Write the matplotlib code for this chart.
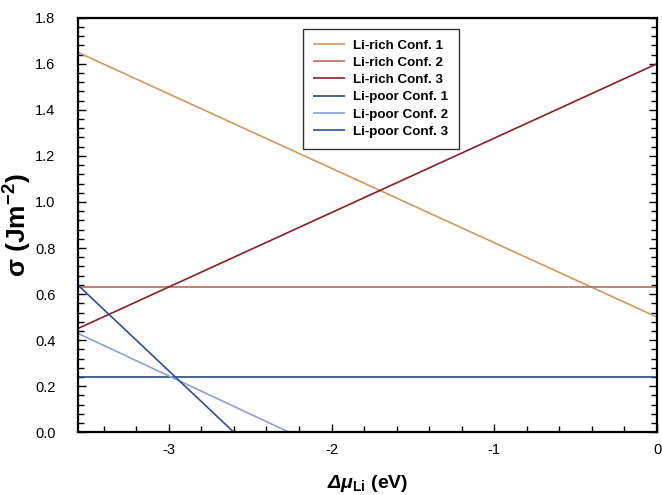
import numpy as np
import matplotlib
matplotlib.use("Agg")
import matplotlib.pyplot as plt
from matplotlib.ticker import MultipleLocator

# =========================
# DATA
# =========================
x_min = -3.56
x_max = 0.0

labels = ["Li-rich Conf. 1", "Li-rich Conf. 2", "Li-rich Conf. 3",
          "Li-poor Conf. 1", "Li-poor Conf. 2", "Li-poor Conf. 3"]
colors = ["#D4975A", "#BC6A62", "#8B1E24", "#2A4A78", "#8C9EE0", "#2C4FA0"]

# line endpoints (x, sigma)
rich1_x = [x_min, 0.0]
rich1_y = [1.65, 0.50]
rich2_x = [x_min, 0.0]
rich2_y = [0.63, 0.63]
rich3_x = [x_min, 0.0]
rich3_y = [0.45, 1.60]
poor1_x = [x_min, 0.0]
poor1_y = [0.24, 0.24]
poor2_x = [x_min, -2.26]
poor2_y = [0.43, 0.0]
poor3_x = [x_min, -2.60]
poor3_y = [0.64, 0.0]

series = [(rich1_x, rich1_y), (rich2_x, rich2_y), (rich3_x, rich3_y),
          (poor1_x, poor1_y), (poor2_x, poor2_y), (poor3_x, poor3_y)]

# =========================
# VISUAL CONFIG
# =========================
plt.rcParams.update({
    "font.family": ["Liberation Sans", "DejaVu Sans"],
    "font.size": 10.5,
    "mathtext.fontset": "custom",
    "mathtext.rm": "Liberation Sans:italic:bold",
    "mathtext.it": "Liberation Sans:italic:bold",
    "mathtext.bf": "Liberation Sans:bold",
})

fig = plt.figure(figsize=(6.62, 4.95), dpi=100)
ax = fig.add_axes([77.7 / 662, 1 - 432.3 / 495, (657 - 77.7) / 662, (432.3 - 17.7) / 495])

for (xs, ys), lab, col in zip(series, labels, colors):
    ax.plot(xs, ys, color=col, linewidth=1.2, label=lab, solid_capstyle="butt")

ax.set_xlim(x_min, x_max)
ax.set_ylim(0, 1.8)

ax.xaxis.set_major_locator(MultipleLocator(1))
ax.xaxis.set_minor_locator(MultipleLocator(0.2))
ax.yaxis.set_major_locator(MultipleLocator(0.2))
ax.yaxis.set_minor_locator(MultipleLocator(0.04))
ax.xaxis.set_major_formatter(matplotlib.ticker.FuncFormatter(lambda v, p: f"{v:.0f}"))
ax.yaxis.set_major_formatter(matplotlib.ticker.FormatStrFormatter("%.1f"))

ax.tick_params(which="both", direction="in", left=True, right=True, top=False, bottom=True,
               width=1.0, labelsize=10.5)
ax.tick_params(which="major", length=6)
ax.tick_params(which="minor", length=4)
ax.tick_params(axis="x", which="major", pad=8)
ax.tick_params(axis="y", which="major", pad=16)

for s in ax.spines.values():
    s.set_linewidth(1.6)

ax.set_ylabel("σ (Jm$^{\\mathregular{-2}}$)", fontsize=19, fontweight="bold", labelpad=1)
ax.set_xlabel(r"$\Delta\mu_{\mathbf{Li}}$ (eV)", fontsize=14, fontweight="bold", labelpad=11)

leg = ax.legend(loc="upper center", bbox_to_anchor=(0.523, 0.99), frameon=True, fancybox=False,
                edgecolor="black", prop={"weight": "bold", "size": 9.6},
                handlelength=2.4, labelspacing=0.37, borderpad=0.8, handletextpad=0.55)
leg.get_frame().set_linewidth(1.0)

fig.savefig("out.png", dpi=100)
